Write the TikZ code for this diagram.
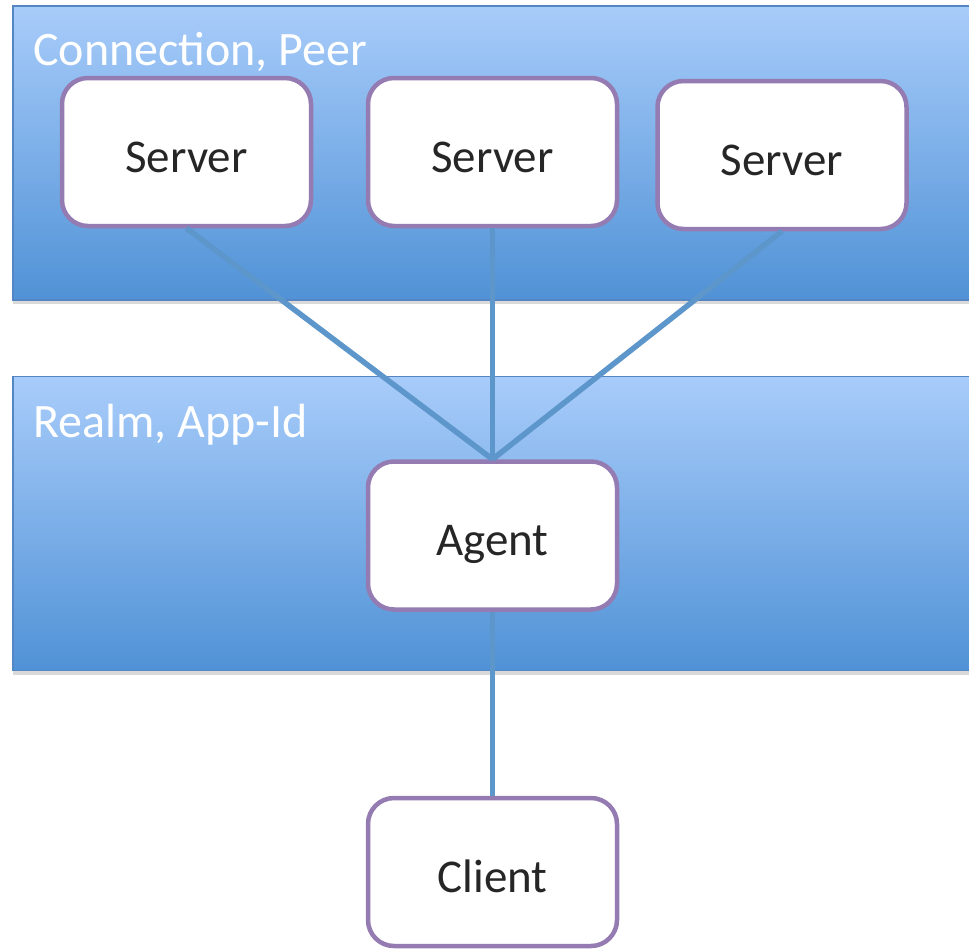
\documentclass[tikz,border=0pt]{standalone}
\usepackage{fontspec}
\setmainfont{Carlito}
\usetikzlibrary{shadows}

\definecolor{bandtop}{RGB}{168,204,250}
\definecolor{bandbot}{RGB}{80,146,214}
\definecolor{bandedge}{RGB}{84,134,196}
\definecolor{boxedge}{RGB}{148,124,178}
\definecolor{wire}{RGB}{92,150,203}
\definecolor{ink}{RGB}{38,38,38}

\tikzset{
  band/.style={rectangle, draw=bandedge, line width=1.2pt,
    top color=bandtop, bottom color=bandbot,
    drop shadow={shadow xshift=0pt, shadow yshift=-4pt, opacity=0.3},
    minimum width=962pt, minimum height=294pt, inner sep=0pt},
  bandlabel/.style={anchor=base west, text=white, inner sep=0pt,
    font=\fontsize{48}{56}\selectfont},
  roundbox/.style={rectangle, rounded corners=26pt, draw=boxedge, fill=white,
    line width=4.5pt, minimum width=249pt, minimum height=148pt,
    text height=44pt, text depth=4pt,
    text=ink, font=\fontsize{47}{56}\selectfont},
  wireline/.style={draw=wire, line width=5.5pt}
}

\begin{document}
\begin{tikzpicture}[x=1pt, y=1pt]
\useasboundingbox (0,0) rectangle (969,-948);

%% ---- bands ----
\node[band] (peerband)  at (494,-153) {};
\node[band] (realmband) at (494,-523.5) {};
\node[bandlabel] (peerlabel)  at (33,-65)  {Connection, Peer};
\node[bandlabel] (realmlabel) at (33,-437) {Realm, App-Id};

%% ---- servers ----
\node[roundbox] (srvA) at (186.5,-152) {Server};
\node[roundbox] (srvB) at (492.5,-152) {Server};
\node[roundbox] (srvC) at (782,-155)   {Server};

%% ---- agent / client ----
\node[roundbox] (agent)  at (492.5,-535.5) {Agent};
\node[roundbox] (client) at (492.5,-872)   {Client};

%% ---- links ----
\draw[wireline] (srvA.south) -- (agent.north);
\draw[wireline] (srvB.south) -- (agent.north);
\draw[wireline] (srvC.south) -- (agent.north);
\draw[wireline] (agent.south) -- (client.north);

\end{tikzpicture}
\end{document}
